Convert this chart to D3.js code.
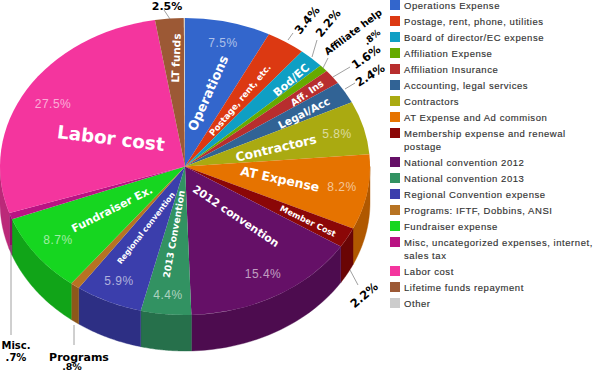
<!DOCTYPE html>
<html>
<head>
<meta charset="utf-8">
<script src="https://cdn.jsdelivr.net/npm/d3@7"></script>
<style>
  html, body { margin: 0; padding: 0; background: #fff; }
  svg { display: block; }
</style>
</head>
<body>
<script>
// budget shares, clockwise from 12 o'clock
var values = [7.5, 3.4, 2.2, 0.8, 1.6, 2.4, 5.8, 8.2, 2.2, 15.4, 4.4, 5.9, 0.8, 8.7, 0.7, 27.5, 2.5, 0.1];
var colors = ["#3366cc", "#dc3912", "#0f9fc4", "#66aa00", "#b82e2e", "#316395", "#aaaa11", "#e67300", "#8b0707",
              "#651067", "#329262", "#3b3eac", "#b77322", "#16d620", "#b91383", "#f4359e", "#9c5935", "#cccccc"];
var legendLabels = [
  ["Operations Expense"], ["Postage, rent, phone, utilities"], ["Board of director/EC expense"],
  ["Affiliation Expense"], ["Affiliation Insurance"], ["Accounting, legal services"], ["Contractors"],
  ["AT Expense and Ad commison"], ["Membership expense and renewal", "postage"], ["National convention 2012"],
  ["National convention 2013"], ["Regional Convention expense"], ["Programs: IFTF, Dobbins, ANSI"],
  ["Fundraiser expense"], ["Misc, uncategorized expenses, internet,", "sales tax"], ["Labor cost"],
  ["Lifetime funds repayment"], ["Other"]
];

// text on the slices: [text, x, y, rotation, size]
var sliceNames = [
  ["Operations", 208, 93, -66, 13], ["Postage, rent, etc.", 240, 100, -50, 8.6], ["Bod/EC", 291, 80, -41, 11],
  ["Aff. Ins", 307, 93, -35, 9.5], ["Legal/Acc", 304, 113, -27, 10.5], ["Contractors", 276, 148, -13, 12.5],
  ["AT Expense", 280, 179, 12, 12.5], ["Member Cost", 308, 221, 26, 8.2], ["2012 convention", 236, 216, 34, 10.8],
  ["2013 Convention", 174, 234, -80, 9.3], ["Regional convention", 146, 228, -52, 7.7], ["Fundraiser Ex.", 112, 209, -27, 11],
  ["Labor cost", 111, 138, 7, 18.3], ["LT funds", 176, 58, -88, 10.5]
];
var slicePercents = [
  ["27.5%", 53, 104], ["7.5%", 223, 43], ["5.8%", 337, 134], ["8.2%", 342, 187],
  ["15.4%", 263, 274], ["4.4%", 168, 295], ["5.9%", 119, 281], ["8.7%", 58, 240]
];
// black callouts outside the pie
var callouts = [
  ["2.5%", 167, 6, 0, 11], ["3.4%", 307, 20, -50, 11.5], ["2.2%", 328, 23, -50, 11.5], ["Affiliate help", 353, 32, -37, 9.6],
  [".8%", 372, 37, -40, 9], ["1.6%", 366, 57, -35, 11.5], ["2.4%", 370, 75, -32, 11.5], ["2.2%", 364, 295, -40, 11.5],
  ["Misc.", 16, 345, 0, 10], [".7%", 16, 357, 0, 10], ["Programs", 79, 357, 0, 11], [".8%", 72, 367, 0, 9.5]
];
var leaders = [
  [164, 10, 170, 19], [293, 33, 288, 40], [317, 40, 312, 57], [328, 58, 323, 68], [350, 67, 333, 77],
  [355, 83, 345, 89], [358, 285, 350, 270], [11, 245, 11, 335], [74, 325, 74, 345]
];

var width = 600, height = 371;
var cx = 185, cy = 166.5, rx = 185, ry = 148.5, depth = 36;
var font = "'DejaVu Sans', sans-serif";

var svg = d3.select("body").append("svg")
    .attr("width", width)
    .attr("height", height)
    .style("font-family", font);

var pie = d3.pie().sort(null);
var slices = pie(values);

var arc = d3.arc().innerRadius(0).outerRadius(rx);

// side wall of the disc, only the front half can be seen
var rim = svg.append("g");
var wallLine = d3.line();
function wallPath(d) {
  var a0 = Math.max(d.startAngle, Math.PI / 2), a1 = Math.min(d.endAngle, Math.PI * 1.5);
  if (a1 <= a0) return null;
  var steps = d3.range(0, 41).map(function (i) { return a0 + (a1 - a0) * i / 40; });
  var top = steps.map(function (a) { return [cx + rx * Math.sin(a), cy - ry * Math.cos(a)]; });
  var bottom = top.map(function (p) { return [p[0], p[1] + depth]; }).reverse();
  return wallLine(top.concat(bottom)) + "Z";
}
rim.selectAll("path")
    .data(slices)
    .join("path")
    .attr("d", wallPath)
    .attr("fill", function (d, i) { return d3.color(colors[i]).darker(0.75); })
    .attr("stroke", function (d, i) { return d3.color(colors[i]).darker(0.75); })
    .attr("stroke-width", 0.4);

svg.append("g")
    .attr("transform", "translate(" + cx + "," + cy + ") scale(1," + ry / rx + ")")
    .selectAll("path")
    .data(slices)
    .join("path")
    .attr("d", arc)
    .attr("fill", function (d, i) { return colors[i]; });

svg.append("g").selectAll("line")
    .data(leaders)
    .join("line")
    .attr("x1", function (d) { return d[0]; })
    .attr("y1", function (d) { return d[1]; })
    .attr("x2", function (d) { return d[2]; })
    .attr("y2", function (d) { return d[3]; })
    .attr("stroke", "#888")
    .attr("stroke-width", 0.8);

function placed(sel) {
  return sel
      .attr("transform", function (d) { return "translate(" + d[1] + "," + d[2] + ") rotate(" + (d[3] || 0) + ")"; })
      .attr("text-anchor", "middle")
      .attr("dy", "0.36em")
      .text(function (d) { return d[0]; });
}

svg.append("g").selectAll("text")
    .data(sliceNames)
    .join("text")
    .call(placed)
    .attr("fill", "#fff")
    .attr("font-weight", "bold")
    .attr("font-size", function (d) { return d[4]; });

svg.append("g").selectAll("text")
    .data(slicePercents)
    .join("text")
    .call(placed)
    .attr("fill", "#fff")
    .attr("fill-opacity", 0.6)
    .attr("font-family", "'Liberation Sans', sans-serif")
    .attr("letter-spacing", 0.5)
    .attr("font-size", 12);

svg.append("g").selectAll("text")
    .data(callouts)
    .join("text")
    .call(placed)
    .attr("fill", "#000")
    .attr("font-weight", "bold")
    .attr("font-size", function (d) { return d[4]; });

// legend, rows are 16px apart and a wrapped label adds 13px
var rowTop = 5, rowStep = 16, lineStep = 13;
var rowY = [];
legendLabels.reduce(function (y, lines) {
  rowY.push(y);
  return y + rowStep + (lines.length - 1) * lineStep;
}, rowTop);

var legend = svg.append("g").selectAll("g")
    .data(legendLabels)
    .join("g")
    .attr("transform", function (d, i) { return "translate(390," + rowY[i] + ")"; });

legend.append("rect")
    .attr("x", 0)
    .attr("y", -5)
    .attr("width", 10)
    .attr("height", 10)
    .attr("fill", function (d, i) { return colors[i]; });

legend.append("text")
    .attr("font-family", "'Liberation Sans', sans-serif")
    .attr("font-size", 9.5)
    .attr("letter-spacing", 0.55)
    .attr("fill", "#333")
    .attr("stroke", "#333")
    .attr("stroke-width", 0.15)
    .selectAll("tspan")
    .data(function (d) { return d; })
    .join("tspan")
    .attr("x", 14)
    .attr("y", function (d, i) { return i * lineStep + 3.5; })
    .text(function (d) { return d; });
</script>
</body>
</html>
